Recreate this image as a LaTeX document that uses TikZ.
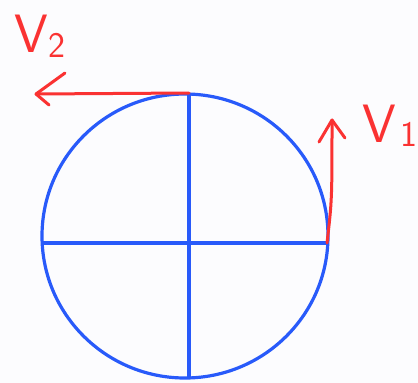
\documentclass[tikz,border=0pt]{standalone}
\usetikzlibrary{arrows.meta}
\definecolor{penblue}{RGB}{40,90,250}
\definecolor{penred}{RGB}{250,50,50}
\definecolor{paper}{RGB}{252,252,254}
\begin{document}
\begin{tikzpicture}[x=1pt,y=-1pt,
  blueline/.style={penblue,line width=3.2pt},
  redline/.style={penred,line width=3pt,line cap=round},
  vlabel/.style={penred,font=\sffamily\fontsize{54}{54}\selectfont,inner sep=0pt}]
\useasboundingbox[fill=paper] (0,0) rectangle (418,383);
\coordinate (C) at (185,236);
\draw[blueline] (C) circle[x radius=143pt, y radius=142pt];
\coordinate (L) at (42,243);
\coordinate (R) at (327,243);
\coordinate (T) at (189,93);
\coordinate (B) at (189,378);
\draw[blueline] (L) -- (R);
\draw[blueline] (T) -- (B);
\coordinate (V2tip) at (36,94);
\coordinate (V1tip) at (332,120);
\draw[redline] (T) -- (V2tip);
\draw[redline] (V2tip) -- (65,73);
\draw[redline] (V2tip) -- (49,105);
\draw[redline] (R) .. controls (332,200) .. (V1tip);
\draw[redline] (V1tip) -- (319,142);
\draw[redline] (V1tip) -- (345,138);
\node[vlabel] (lab2) at (40,36) {V\kern0pt\raisebox{-5pt}{\fontsize{36}{36}\selectfont 2}};
\node[vlabel] (lab1) at (390,126) {V\kern4pt\raisebox{-4pt}{\fontsize{36}{36}\selectfont 1}};
\end{tikzpicture}
\end{document}
